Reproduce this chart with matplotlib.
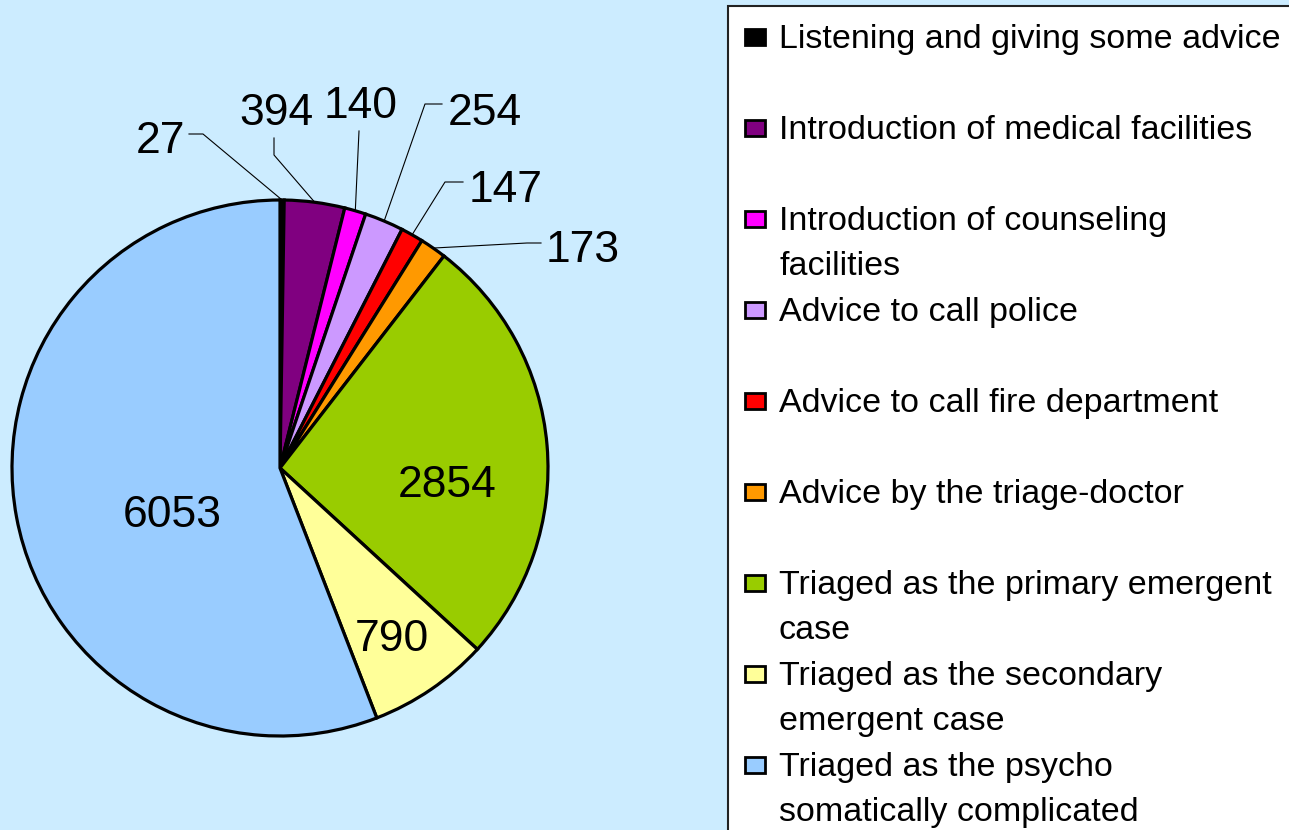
import numpy as np
import matplotlib
matplotlib.use("Agg")
import matplotlib.pyplot as plt
from matplotlib.patches import Rectangle

plt.rcParams['font.family'] = ['Liberation Sans', 'DejaVu Sans']

categories = [
    "Listening and giving some advice",
    "Introduction of medical facilities",
    "Introduction of counseling\nfacilities",
    "Advice to call police",
    "Advice to call fire department",
    "Advice by the triage-doctor",
    "Triaged as the primary emergent\ncase",
    "Triaged as the secondary\nemergent case",
    "Triaged as the psycho\nsomatically complicated",
]
counts = [27, 394, 140, 254, 147, 173, 2854, 790, 6053]
colors = ["#000000", "#800080", "#FF00FF", "#CC99FF", "#FF0000",
          "#FF9900", "#99CC00", "#FFFF99", "#99CCFF"]

bg = "#CCECFF"

# pie geometry in pixels
cx, cy, R = 280, 468, 268

def p2d(px, py):
    return (px - cx) / R, (cy - py) / R

# label anchor (centre x, baseline y) in pixels
label_px = [(160, 153), (276, 125), (361, 118), (485, 125), (506, 202),
            (583, 262), (447, 497), (392, 651), (172, 527)]
# leader line points (pixels) before reaching the wedge edge
leader_px = [[(189, 134), (203, 134)],
             [(274, 138), (274, 155)],
             [(359, 131)],
             [(442, 104), (425, 104)],
             [(463, 182), (445, 182)],
             [(541, 243), (527, 243)],
             None, None, None]

fig = plt.figure(figsize=(12.89, 8.30), dpi=100, facecolor=bg)

leg = fig.add_axes([0, 0, 1, 1])
leg.set_xlim(0, 1289)
leg.set_ylim(830, 0)
leg.axis("off")

ax = fig.add_axes([0, 0, 728 / 1289, 1])
wedges, _ = ax.pie(counts, colors=colors, startangle=90, counterclock=False,
                   radius=1, wedgeprops=dict(edgecolor="black", linewidth=2.3))
ax.set_aspect("auto")
ax.set_xlim(-cx / R, (728 - cx) / R)
ax.set_ylim((cy - 830) / R, cy / R)
ax.axis("off")
ax.patch.set_alpha(0)

total = float(sum(counts))
cum = np.cumsum(counts) - np.array(counts) / 2.0
for i, v in enumerate(counts):
    ang = np.deg2rad(90 - cum[i] / total * 360)
    tx, ty = p2d(*label_px[i])
    ax.text(tx, ty, str(v), ha="center", va="baseline", fontsize=32, color="black")
    if leader_px[i] is not None:
        pts = [p2d(*p) for p in leader_px[i]] + [(np.cos(ang), np.sin(ang))]
        xs, ys = zip(*pts)
        ax.plot(xs, ys, color="black", lw=0.8)

# legend box
leg.add_patch(Rectangle((728, 6), 600, 900, facecolor="white",
                        edgecolor="#222222", lw=1.5))
y0, step, lh = 37, 91, 45
for i, (lab, c) in enumerate(zip(categories, colors)):
    yc = y0 + i * step
    leg.add_patch(Rectangle((745, yc - 8), 20, 16, facecolor=c,
                            edgecolor="black", lw=2))
    for k, line in enumerate(lab.split("\n")):
        leg.text(779, yc + 11 + k * lh, line, fontsize=24.5, va="baseline",
                 ha="left", color="black")

fig.savefig("out.png", dpi=100, facecolor=bg)
